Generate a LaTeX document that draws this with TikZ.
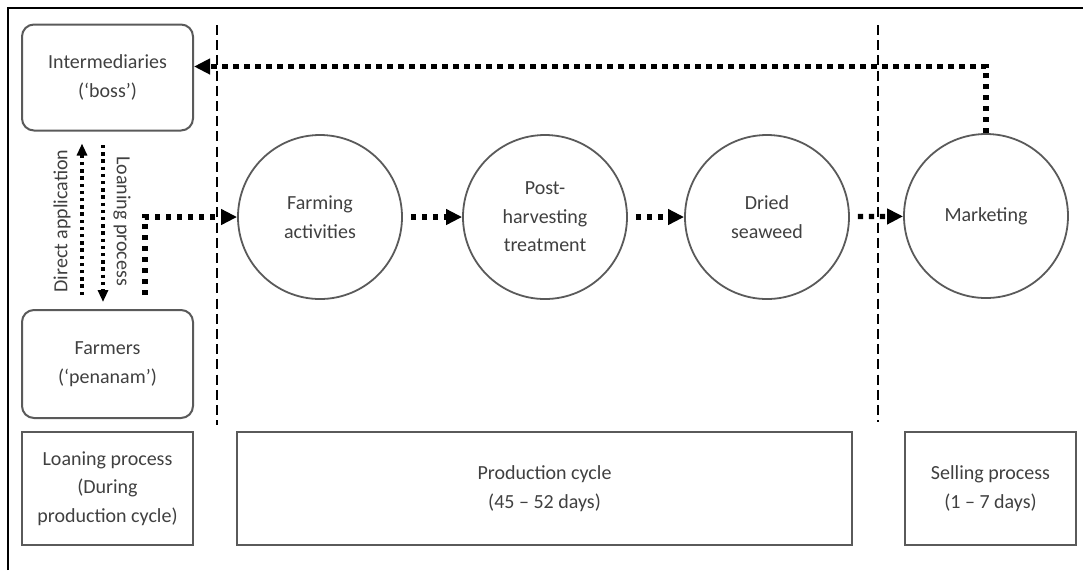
\documentclass[tikz,border=0pt]{standalone}
\usepackage{fontspec}
\setmainfont{Carlito}
\usetikzlibrary{arrows.meta}
\definecolor{txtgray}{HTML}{404040}
\definecolor{linegray}{HTML}{5A5A5A}

\begin{document}
\begin{tikzpicture}[x=0.5pt,y=-0.5pt,
  every node/.style={font=\fontsize{10}{14.2}\selectfont, text=txtgray, align=center, inner sep=0pt},
  actor/.style={draw=linegray, line width=1pt, rounded corners=6pt, minimum width=85.5pt, minimum height=53pt},
  stage/.style={draw=linegray, line width=0.9pt, circle, minimum size=82pt},
  period/.style={draw=linegray, line width=1.3pt, minimum height=56.5pt},
  flow/.style={line width=2.6pt, dash pattern=on 2.6pt off 2.9pt, -{Triangle[length=8pt,width=7.5pt]}},
  link/.style={line width=1.7pt, dash pattern=on 1.7pt off 1.9pt, -{Triangle[length=6pt,width=5pt]}},
  phase/.style={line width=1.2pt, dash pattern=on 5pt off 2.6pt}]
\useasboundingbox (0,0) rectangle (1083,570);
\draw[line width=1pt] (8,570) -- (8,8) -- (1083,8);

% actors
\node[actor] (inter) at (107.5,77.5) {Intermediaries\\(‘boss’)};
\node[actor, minimum height=54pt] (farm) at (107.5,364) {Farmers\\(‘penanam’)};

% stages
\node[stage] (farming) at (320,217) {Farming\\activities};
\node[stage] (post) at (545,217) {Post-\\harvesting\\treatment};
\node[stage] (dried) at (767,217) {Dried\\seaweed};
\node[stage] (mkt) at (986,216) {Marketing};

% periods
\node[period, minimum width=85.5pt] (loan) at (107.5,488.5) {Loaning process\\(During\\production cycle)};
\node[period, minimum width=307.5pt] (prod) at (544.5,488.5) {Production cycle\\(45 – 52 days)};
\node[period, minimum width=85.5pt] (sell) at (990.5,488.5) {Selling process\\(1 – 7 days)};

% phase borders
\draw[phase] (217,25) -- (217,425);
\draw[phase] (878,25) -- (878,422);

% loan links
\coordinate (da) at (82,295);
\coordinate (lp) at (103,145);
\draw[link, shorten >=6pt] (da) -- (da |- inter.south);
\draw[link, shorten >=3.5pt] (lp) -- (lp |- farm.north);
\node[rotate=90] (dalabel) at (62,221) {Direct application};
\node[rotate=-90] (lplabel) at (122,221) {Loaning process};

% flows
\coordinate (fs) at (145,295);
\draw[flow] (fs) |- (farming.west);
\draw[flow, shorten <=4pt] (farming) -- (post);
\draw[flow, shorten <=4pt] (post) -- (dried);
\draw[flow, shorten <=4pt] (dried) -- (mkt);
\draw[flow] (mkt.north) |- ([yshift=5.5pt]inter.east);
\end{tikzpicture}
\end{document}
